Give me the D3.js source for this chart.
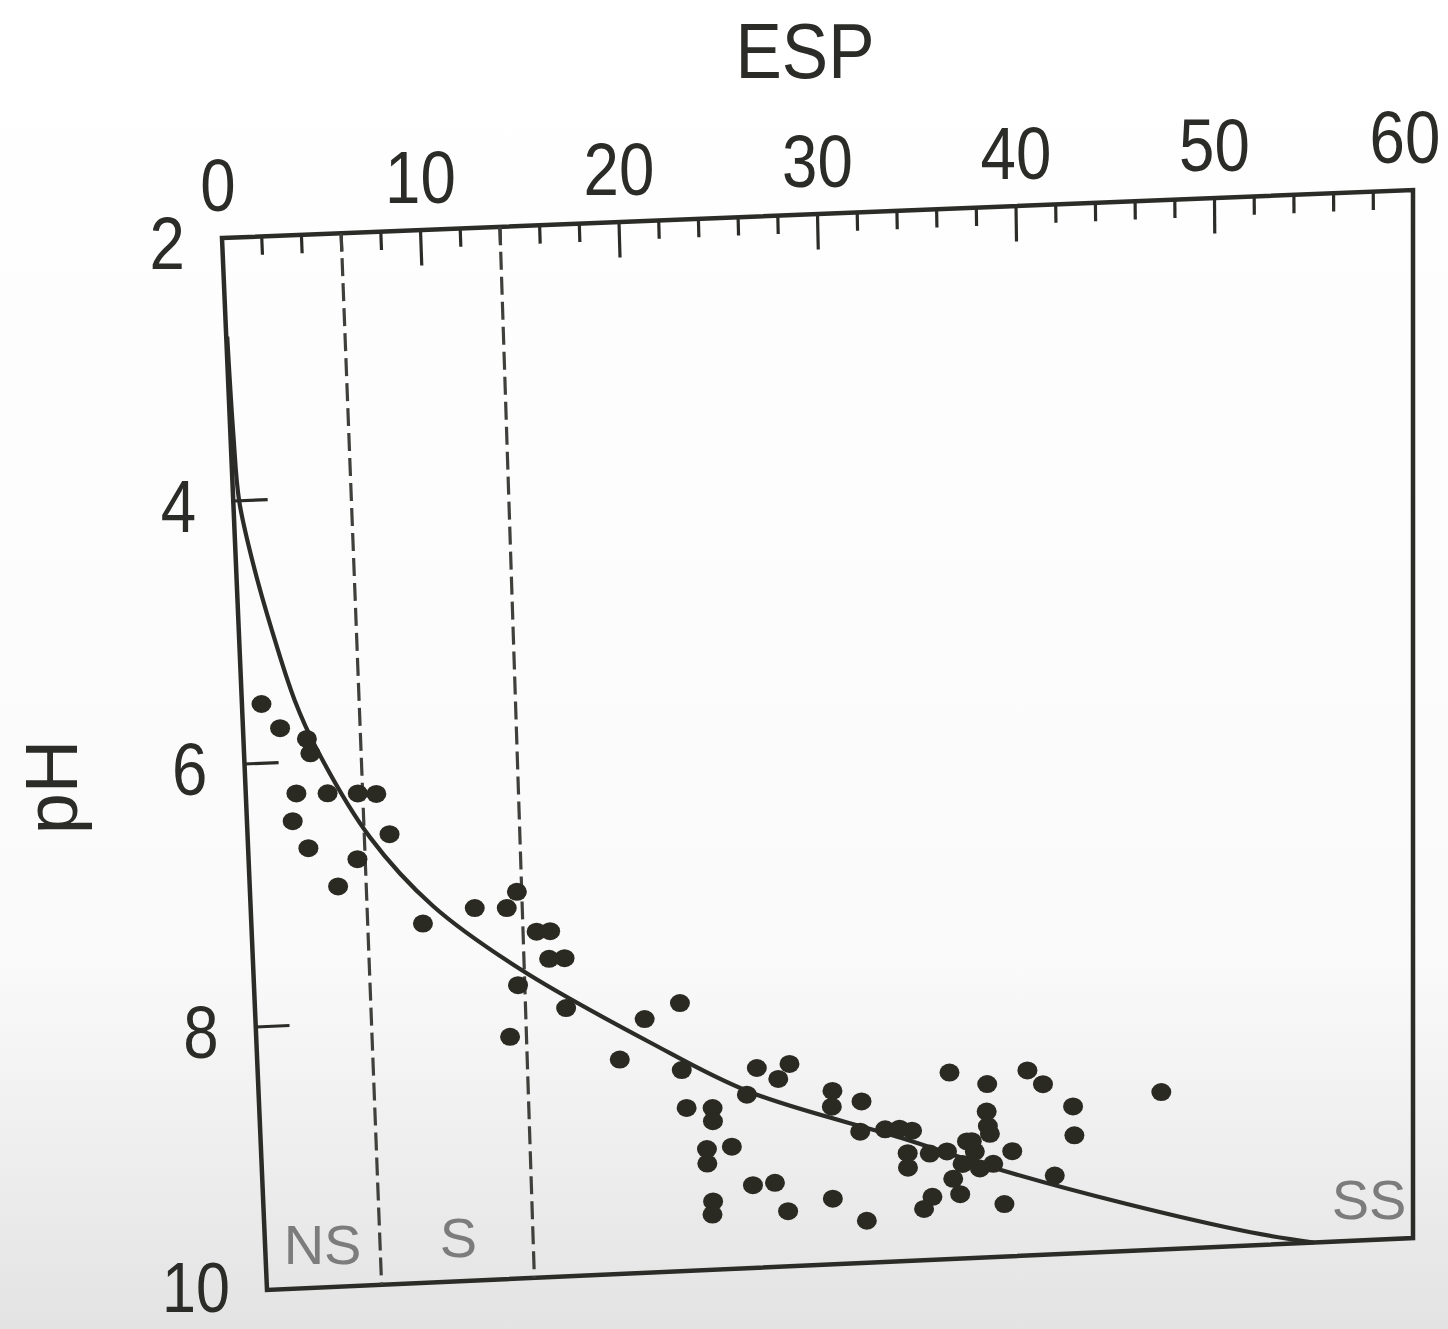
<!DOCTYPE html>
<html>
<head>
<meta charset="utf-8">
<script src="https://cdn.jsdelivr.net/npm/d3@7"></script>
<style>
  html, body { margin: 0; padding: 0; background: #fff; }
  svg { display: block; }
</style>
</head>
<body>
<svg id="chart" width="1448" height="1329"></svg>
<script>
// ---------- data ----------
const xTickValues = [0, 10, 20, 30, 40, 50, 60];
const yTickValues = [2, 4, 6, 8, 10];
const xTitle = "ESP";
const yTitle = "pH";

const pointEsp = [1.0, 1.9, 3.25, 3.4, 2.6, 4.2, 5.75, 6.7, 2.35, 7.3, 3.1, 5.6, 4.55,
  8.85, 11.55, 13.2, 13.75, 14.7, 15.4, 15.3, 16.1, 13.65, 16.1, 13.15,
  22.0, 20.15, 18.8, 22.0, 25.9, 27.6, 27.0, 25.35, 22.2, 23.55, 23.55, 23.2, 23.2,
  24.5, 25.55, 26.7, 23.45, 23.4, 27.35, 29.8, 29.75, 31.3, 31.2, 32.5, 33.25, 33.9,
  33.65, 33.65, 34.8, 29.7, 31.45, 34.9, 34.45, 35.9, 37.85, 37.8, 36.75, 37.95,
  39.1, 36.5, 37.4, 38.1, 36.0, 36.35, 38.65, 39.95, 40.75, 42.3, 42.35, 41.3, 46.9,
  35.7, 37.15, 37.85, 37.0];
const pointPh = [5.55, 5.74, 5.83, 5.94, 6.24, 6.25, 6.26, 6.27, 6.45, 6.58, 6.66, 6.76, 6.96,
  7.27, 7.17, 7.18, 7.06, 7.37, 7.37, 7.58, 7.58, 7.77, 7.96, 8.16,
  7.96, 8.07, 8.37, 8.47, 8.48, 8.46, 8.57, 8.68, 8.76, 8.77, 8.87, 9.08, 9.19,
  9.07, 9.37, 9.36, 9.48, 9.58, 9.58, 8.68, 8.80, 8.77, 9.0, 8.99, 8.99, 9.01,
  9.18, 9.29, 9.19, 9.5, 9.68, 9.52, 9.61, 8.58, 8.68, 8.89, 9.11, 9.06,
  9.2, 9.28, 9.32, 9.29, 9.39, 9.51, 9.6, 8.59, 8.7, 8.88, 9.1, 9.4, 8.8,
  9.18, 9.19, 9.0, 9.11];

// fitted curve
const curveEsp = [0.05, 0.15, 0.3, 0.9, 1.7, 2.7, 3.7, 6.3, 9.4, 13.8, 20.4, 25.5, 33.3, 38.5, 45.0, 51.5, 54.8];
const curvePh  = [2.75, 3.5, 4.0, 4.5, 5.0, 5.53, 5.9, 6.6, 7.14, 7.65, 8.25, 8.66, 9.06, 9.34, 9.64, 9.9, 10.0];

// sodicity class boundaries and labels
const boundaryEsp = [6, 14];
const zoneLabels = ["NS", "S", "SS"];
const zoneEsp = [3.0, 10.1, 57.7];
const zonePh = [9.67, 9.66, 9.69];

// ---------- layout ----------
const svg = d3.select("#chart");
const W = 1448, H = 1329;

// photographed frame corners (the page in the reference is slightly skewed)
const corner = { tl: [222, 238], tr: [1413, 190], bl: [267, 1290], br: [1413, 1238] };

const x = d3.scaleLinear().domain([0, 60]).range([0, 1]);
const y = d3.scaleLinear().domain([2, 10]).range([0, 1]);

function P(e, p) {
  const s = x(e), t = y(p);
  const a = (1 - s) * (1 - t), b = s * (1 - t), c = (1 - s) * t, d = s * t;
  return [
    a * corner.tl[0] + b * corner.tr[0] + c * corner.bl[0] + d * corner.br[0],
    a * corner.tl[1] + b * corner.tr[1] + c * corner.bl[1] + d * corner.br[1]
  ];
}

// background (slight grey shading of the photographed page)
const defs = svg.append("defs");
const grad = defs.append("linearGradient").attr("id", "bg").attr("x1", 0).attr("y1", 0).attr("x2", 0).attr("y2", 1);
grad.append("stop").attr("offset", "0%").attr("stop-color", "#ffffff");
grad.append("stop").attr("offset", "72%").attr("stop-color", "#fafafa");
grad.append("stop").attr("offset", "100%").attr("stop-color", "#e3e3e3");
svg.append("rect").attr("width", W).attr("height", H).attr("fill", "url(#bg)");

const ink = "#2b2b27";
const numFont = "'Liberation Sans', Arial, sans-serif";
const narrow = 0.86; // the reference lettering is condensed

// frame
const frame = [P(0, 2), P(60, 2), P(60, 10), P(0, 10)];
svg.append("path")
  .attr("d", d3.line()(frame) + "Z")
  .attr("fill", "none").attr("stroke", ink).attr("stroke-width", 4.5).attr("stroke-linejoin", "miter");

// top axis ticks (every 2 ESP units; long at multiples of 10)
const minorTicks = d3.range(2, 60, 2);
svg.append("g").selectAll("line").data(minorTicks).join("line")
  .each(function (e) {
    const len = (e % 10 === 0) ? 0.27 : 0.14;
    const p0 = P(e, 2), p1 = P(e, 2 + len);
    d3.select(this).attr("x1", p0[0]).attr("y1", p0[1]).attr("x2", p1[0]).attr("y2", p1[1]);
  })
  .attr("stroke", ink).attr("stroke-width", 3.2);

// top axis labels
svg.append("g").selectAll("text").data(xTickValues).join("text")
  .attr("transform", e => {
    const p = P(e, 2);
    const dx = e === 0 ? -4 : (e === 60 ? -8 : 0);
    return `translate(${p[0] + dx},${p[1] - 27}) scale(${narrow},1)`;
  })
  .attr("text-anchor", "middle")
  .attr("font-family", numFont).attr("font-size", 74).attr("fill", ink)
  .text(d => d);

// left axis ticks (pH 4, 6, 8)
svg.append("g").selectAll("line").data(yTickValues.filter(v => v > 2 && v < 10)).join("line")
  .each(function (p) {
    const p0 = P(0, p), p1 = P(1.75, p);
    d3.select(this).attr("x1", p0[0]).attr("y1", p0[1]).attr("x2", p1[0]).attr("y2", p1[1]);
  })
  .attr("stroke", ink).attr("stroke-width", 3.2);

// left axis labels
svg.append("g").selectAll("text").data(yTickValues).join("text")
  .attr("transform", p => {
    const q = P(0, p);
    const dy = p === 10 ? 22 : 31;
    return `translate(${q[0] - 37},${q[1] + dy}) scale(${narrow},1)`;
  })
  .attr("text-anchor", "end")
  .attr("font-family", numFont).attr("font-size", p => p === 10 ? 71 : 74).attr("fill", ink)
  .text(d => d);

// axis titles
svg.append("text")
  .attr("transform", `translate(805,78) scale(0.89,1)`)
  .attr("text-anchor", "middle")
  .attr("font-family", numFont).attr("font-size", 78).attr("fill", ink)
  .text(xTitle);
svg.append("text")
  .attr("transform", "translate(77,787) rotate(-90)")
  .attr("text-anchor", "middle")
  .attr("font-family", numFont).attr("font-size", 74).attr("fill", ink)
  .text(yTitle);

// class boundaries (dashed)
svg.append("g").selectAll("line").data(boundaryEsp).join("line")
  .each(function (e) {
    const p0 = P(e, 2), p1 = P(e, 10);
    d3.select(this).attr("x1", p0[0]).attr("y1", p0[1]).attr("x2", p1[0]).attr("y2", p1[1]);
  })
  .attr("stroke", "#3f3f3c").attr("stroke-width", 3.2).attr("stroke-dasharray", "18 7");

// zone labels
svg.append("g").selectAll("text").data(zoneLabels).join("text")
  .attr("x", (d, i) => P(zoneEsp[i], zonePh[i])[0])
  .attr("y", (d, i) => P(zoneEsp[i], zonePh[i])[1] + 20)
  .attr("text-anchor", "middle")
  .attr("font-family", "'Liberation Sans', Arial, sans-serif").attr("font-size", 56)
  .attr("fill", "#7c7c7c")
  .text(d => d);

// fitted curve
const curvePts = curveEsp.map((e, i) => P(e, curvePh[i]));
svg.append("path")
  .attr("d", d3.line().curve(d3.curveCatmullRom.alpha(0.5))(curvePts))
  .attr("fill", "none").attr("stroke", ink).attr("stroke-width", 4.2);

// data points
svg.append("g").selectAll("ellipse").data(pointEsp).join("ellipse")
  .attr("cx", (e, i) => P(e, pointPh[i])[0])
  .attr("cy", (e, i) => P(e, pointPh[i])[1])
  .attr("rx", 10).attr("ry", 9)
  .attr("fill", "#2a2a22");
</script>
</body>
</html>
